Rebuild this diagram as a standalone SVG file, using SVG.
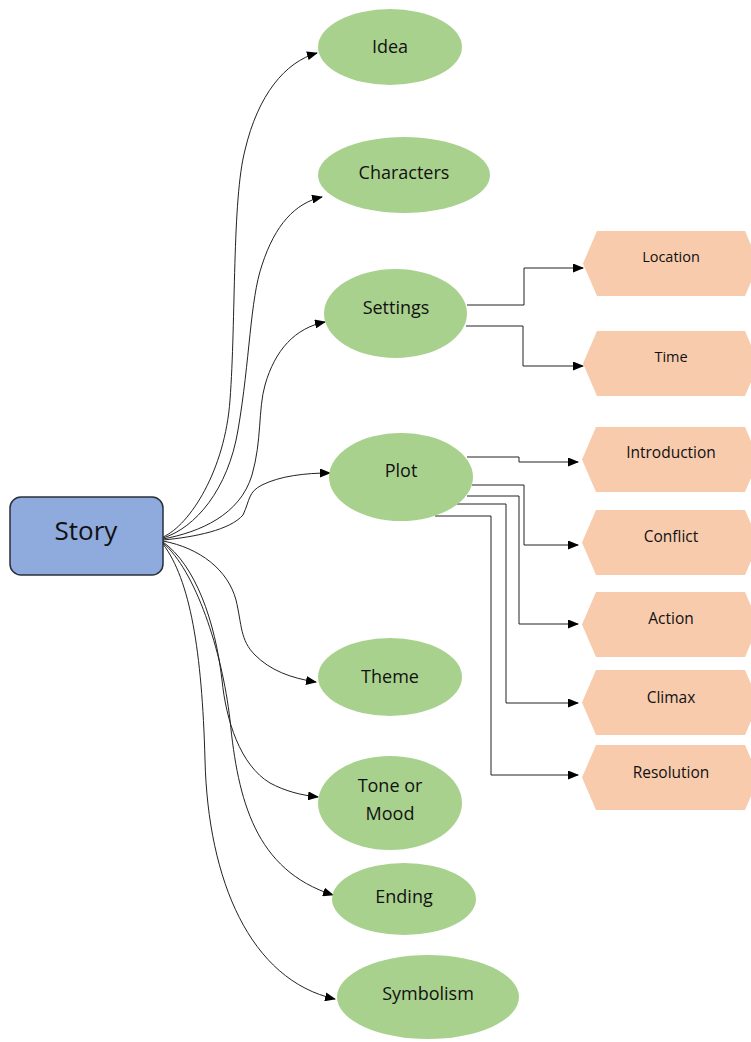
<svg xmlns="http://www.w3.org/2000/svg" width="751" height="1042" viewBox="0 0 751 1042">
<style>
.ell{fill:#a9d18e;}
.hex{fill:#f8cbad;}
.lbl{font-family:"Open Sans","Liberation Sans",sans-serif;font-size:18px;fill:#111;text-anchor:middle;}
.hl{font-family:"Open Sans","Liberation Sans",sans-serif;font-size:15.5px;fill:#111;text-anchor:middle;}
.hs{font-family:"Open Sans","Liberation Sans",sans-serif;font-size:14.5px;fill:#111;text-anchor:middle;}
.c{fill:none;stroke:#222;stroke-width:1;marker-end:url(#arr);}
</style>
<defs>
<marker id="arr" markerWidth="11" markerHeight="9" refX="10" refY="4.5" orient="auto" markerUnits="userSpaceOnUse">
<path d="M0,0 L11,4.5 L0,9 Z" fill="#000"/>
</marker>
</defs>
<rect width="751" height="1042" fill="#fff"/>
<g id="connectors">
<path class="c" d="M163,537 C190,525 225,470 230,400 C236,320 232,200 245,150 C258,95 285,62 317,53"/>
<path class="c" d="M163,538 C195,528 228,490 238,430 C250,360 250,300 262,265 C275,225 295,203 322,197"/>
<path class="c" d="M163,539 C200,532 240,515 252,475 C262,440 258,410 265,385 C275,350 295,328 325,322"/>
<path class="c" d="M163,540 C195,537 230,530 243,515 C250,500 248,492 262,485 C280,476 305,473 330,473"/>
<path class="c" d="M163,541 C200,548 228,570 236,600 C242,625 240,640 255,655 C270,670 290,678 316,682"/>
<path class="c" d="M163,542 C195,565 215,620 222,680 C226,720 240,765 270,783 C285,791 300,795 318,797"/>
<path class="c" d="M163,543 C195,570 222,650 230,720 C238,800 255,870 333,895"/>
<path class="c" d="M163,544 C190,580 202,650 205,760 C208,880 250,980 335,999"/>
<path class="c" d="M467,305 H524 V268 H583"/>
<path class="c" d="M466,326 H523 V366 H583"/>
<path class="c" d="M467,457 H519 V462 H578"/>
<path class="c" d="M472,485 H524 V545 H578"/>
<path class="c" d="M467,496 H519 V624 H578"/>
<path class="c" d="M457,504 H506 V703 H578"/>
<path class="c" d="M435,516 H491 V775 H578"/>
</g>
<g id="story">
<rect x="10" y="497" width="153" height="78" rx="11" fill="#8faadc" stroke="#2a2f3a" stroke-width="1.5"/>
<text x="86" y="540" font-family="Open Sans, Liberation Sans, sans-serif" font-size="26" fill="#111" text-anchor="middle">Story</text>
</g>
<g id="idea"><ellipse class="ell" cx="390" cy="47" rx="72" ry="38"/><text class="lbl" x="390" y="53">Idea</text></g>
<g id="characters"><ellipse class="ell" cx="404" cy="175" rx="86" ry="38"/><text class="lbl" x="404" y="179">Characters</text></g>
<g id="settings"><ellipse class="ell" cx="395.5" cy="313.5" rx="71.5" ry="44.5"/><text class="lbl" x="396" y="314">Settings</text></g>
<g id="plot"><ellipse class="ell" cx="401" cy="477" rx="72" ry="44"/><text class="lbl" x="401" y="477">Plot</text></g>
<g id="theme"><ellipse class="ell" cx="390" cy="677" rx="72" ry="39"/><text class="lbl" x="390" y="683">Theme</text></g>
<g id="tone"><ellipse class="ell" cx="390" cy="803" rx="72" ry="47"/><text class="lbl" x="390" y="792">Tone or</text><text class="lbl" x="390" y="820">Mood</text></g>
<g id="ending"><ellipse class="ell" cx="404" cy="899" rx="72" ry="36"/><text class="lbl" x="404" y="903">Ending</text></g>
<g id="symbolism"><ellipse class="ell" cx="428" cy="997" rx="91" ry="42"/><text class="lbl" x="428" y="1000">Symbolism</text></g>
<g id="location"><polygon class="hex" points="583,263.5 597,231 745,231 759,263.5 745,296 597,296"/><text class="hs" x="671" y="262">Location</text></g>
<g id="time"><polygon class="hex" points="583,363.5 597,331 745,331 759,363.5 745,396 597,396"/><text class="hs" x="671" y="362">Time</text></g>
<g id="introduction"><polygon class="hex" points="582,459.5 596,427 745,427 759,459.5 745,492 596,492"/><text class="hl" x="671" y="458">Introduction</text></g>
<g id="conflict"><polygon class="hex" points="582,542.5 596,510 745,510 759,542.5 745,575 596,575"/><text class="hl" x="671" y="542">Conflict</text></g>
<g id="action"><polygon class="hex" points="582,624.5 596,592 745,592 759,624.5 745,657 596,657"/><text class="hl" x="671" y="624">Action</text></g>
<g id="climax"><polygon class="hex" points="582,702.5 596,670 745,670 759,702.5 745,735 596,735"/><text class="hl" x="671" y="703">Climax</text></g>
<g id="resolution"><polygon class="hex" points="582,777.5 596,745 745,745 759,777.5 745,810 596,810"/><text class="hl" x="671" y="778">Resolution</text></g>
</svg>
